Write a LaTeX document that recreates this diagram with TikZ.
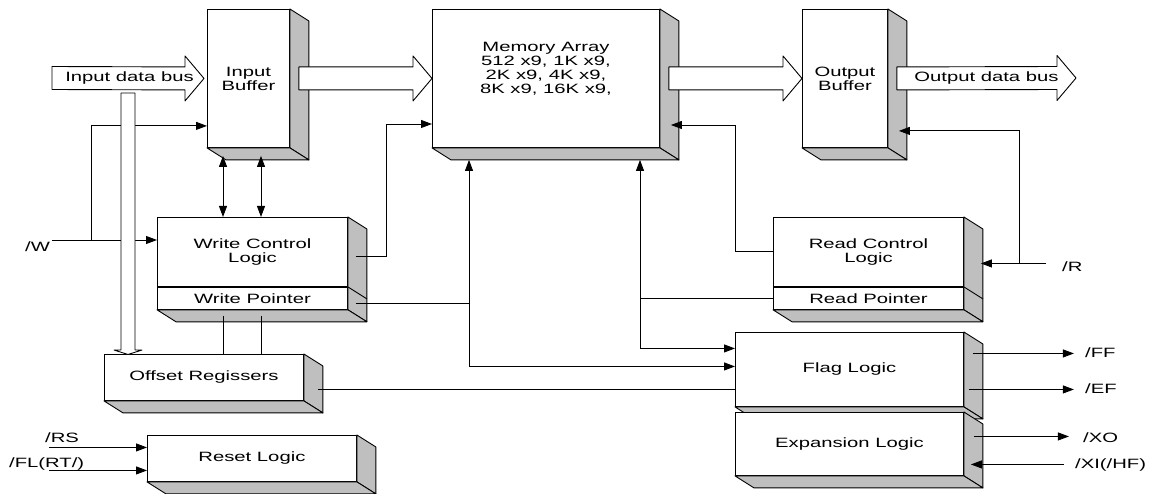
\documentclass[tikz,border=0pt]{standalone}
\usepackage{fontspec}
\setmainfont{Liberation Sans}[FakeStretch=1.5]
\usetikzlibrary{arrows.meta,calc,positioning}
\colorlet{shade}{black!25}
\tikzset{
  >={Triangle[length=11pt,width=8pt]},
  block/.style = {draw,fill=white,line width=0.9pt,inner sep=2pt,align=center,anchor=north west},
  face/.style = {draw,fill=shade,line width=0.9pt,line join=round},
  wire/.style = {line width=0.9pt},
  bus/.style = {draw,fill=white,line width=0.9pt,line join=round},
  memtext/.style = {align=center,anchor=north,yshift=-29.5pt},
  pin/.style = {inner sep=0pt,anchor=base west}
}
% side and bottom faces of a block (upper node #1, lower node #2)
\newcommand{\drawslab}[2]{%
  \filldraw[face] (#1.north east) -- ++(19,12) -- ($(#2.south east)+(19,12)$) -- (#2.south east) -- cycle;
  \filldraw[face] (#2.south west) -- ++(19,12) -- ($(#2.south east)+(19,12)$) -- (#2.south east) -- cycle;
}
\newcommand{\fatarrow}[2]{%
  \draw[bus] ($(#1)+(0,-11.5)$) -- ($(#2)+(-19,-11.5)$) -- ($(#2)+(-19,-22.5)$) -- (#2)
    -- ($(#2)+(-19,22.5)$) -- ($(#2)+(-19,11.5)$) -- ($(#1)+(0,11.5)$) -- cycle;
}

\begin{document}
\begin{tikzpicture}[x=1pt,y=-1pt,font=\fontsize{13.5}{14}\selectfont]
  \useasboundingbox (0,0) rectangle (1153,494);

  \node[block,minimum width=82pt,minimum height=138pt] (inbuf) at (207,9) {Input\\Buffer};
  \drawslab{inbuf}{inbuf}
  \node[block,minimum width=227pt,minimum height=138pt,
    label={[memtext]north:{Memory Array\\512 x9, 1K x9,\\2K x9, 4K x9,\\8K x9, 16K x9,}}] (mem) at (432,9) {};
  \drawslab{mem}{mem}
  \node[block,minimum width=85pt,minimum height=138pt] (outbuf) at (802,9) {Output\\Buffer};
  \drawslab{outbuf}{outbuf}

  \node[block,minimum width=190pt,minimum height=69pt] (wcl) at (157,217) {Write Control\\Logic};
  \node[block,minimum width=190pt,minimum height=22pt] (wptr) at (wcl.south west) {Write Pointer};
  \drawslab{wcl}{wptr}
  \draw[face] (wcl.south east) -- ++(19,12);
  \node[block,minimum width=190pt,minimum height=69pt] (rcl) at (773,217) {Read Control\\Logic};
  \node[block,minimum width=190pt,minimum height=22pt] (rptr) at (rcl.south west) {Read Pointer};
  \drawslab{rcl}{rptr}
  \draw[face] (rcl.south east) -- ++(19,12);

  \node[block,minimum width=199pt,minimum height=46pt] (off) at (104,354) {Offset Regissers};
  \drawslab{off}{off}
  \node[block,minimum width=209pt,minimum height=46pt] (reset) at (147,435) {Reset Logic};
  \drawslab{reset}{reset}
  \node[block,minimum width=228pt,minimum height=74pt] (flag) at (735,332) {Flag Logic};
  \drawslab{flag}{flag}
  \node[block,minimum width=228pt,minimum height=63pt] (expn) at (735,412) {Expansion Logic};
  \drawslab{expn}{expn}

  % data path
  \coordinate (inbus) at (52,78);
  \coordinate (outtip) at (1076,78);
  \fatarrow{inbus}{[xshift=-3pt]inbuf.west}
  \node[inner sep=0pt] (inlbl) at ($(inbus)!0.5!(inbuf.west)$) {Input data bus};
  \fatarrow{[xshift=9pt]inbuf.east}{mem.west}
  \fatarrow{[xshift=9pt]mem.east}{outbuf.west}
  \fatarrow{[xshift=9pt]outbuf.east}{outtip}
  \node[inner sep=0pt] (outlbl) at ($([xshift=9pt]outbuf.east)!0.5!(outtip)$) {Output data bus};

  % write side
  \coordinate (w) at (52,240);
  \node[pin] (wlbl) at (25,252) {/W};
  \draw[wire,->] (w) -- (w -| wcl.west);
  \draw[wire,->] (91,240) |- ([yshift=22pt]inbuf.south west);
  \draw[bus] (121,93) -- (121,350) -- (114,350) -- (128,354.5) -- (142,350) -- (135,350) -- (135,93) -- cycle;
  \coordinate (ia) at ([xshift=16pt,yshift=-8pt]inbuf.south west);
  \coordinate (ib) at ([xshift=54pt,yshift=-8pt]inbuf.south west);
  \draw[wire,<->] (ia) -- (ia |- wcl.north);
  \draw[wire,<->] (ib) -- (ib |- wcl.north);
  \draw[wire] ($(ia |- wptr.south)+(0,6)$) -- (ia |- off.north);
  \draw[wire] ($(ib |- wptr.south)+(0,6)$) -- (ib |- off.north);
  \draw[wire,->] ([xshift=8pt,yshift=-4.5pt]wcl.east) -- ++(31,0) |- ([yshift=-115pt]mem.north west);
  \coordinate (mleft) at ([xshift=37pt,yshift=-12pt]mem.south west);
  \coordinate (wp) at ([xshift=8pt,yshift=-5pt]wptr.east);
  \draw[wire] (wp) -- (wp -| mleft);
  \draw[wire,<->] (mleft) |- ([yshift=3pt]flag.west);
  \coordinate (ob) at ([xshift=14pt,yshift=-12pt]off.east);
  \draw[wire] (ob) -- (ob -| flag.west);

  % read side
  \coordinate (mright) at ([xshift=208pt,yshift=-12pt]mem.south west);
  \draw[wire,<->] (mright) |- ([yshift=21pt]flag.west);
  \draw[wire] (rptr.west) -- (rptr.west -| mright);
  \draw[wire,->] (rcl.west) -- ++(-38,0) |- ([xshift=11pt,yshift=-116pt]mem.north east);
  \coordinate (rin) at ([xshift=82pt,yshift=-11.5pt]rcl.east);
  \node[pin] (rlbl) at (1062,271) {/R};
  \draw[wire,->] (rin) -- ([xshift=17pt,yshift=-11.5pt]rcl.east);
  \draw[wire,->] ($(rin)+(-26,0)$) |- ([xshift=11pt,yshift=17pt]outbuf.south east);

  % flags and expansion
  \node[pin] (fflbl) at (1085,357) {/FF};
  \node[pin] (eflbl) at (1085,393) {/EF};
  \node[pin] (xolbl) at (1083,442) {/XO};
  \node[pin] (xilbl) at (1075,468) {/XI(/HF)};
  \draw[wire,->] ([xshift=9pt,yshift=16pt]flag.east) -- ++(101,0);
  \draw[wire,->] ([xshift=5pt,yshift=-20pt]flag.east) -- ++(105,0);
  \draw[wire,->] ([xshift=10pt,yshift=7.5pt]expn.east) -- ++(95,0);
  \draw[wire,->] ([xshift=100pt,yshift=-20.5pt]expn.east) -- ++(-93,0);

  % reset
  \node[pin] (rslbl) at (45,442) {/RS};
  \node[pin] (fllbl) at (9,467) {/FL(RT/)};
  \draw[wire,->] ([xshift=-98pt,yshift=11pt]reset.west) -- ([yshift=11pt]reset.west);
  \draw[wire,->] ([xshift=-98pt,yshift=-12pt]reset.west) -- ([yshift=-12pt]reset.west);
\end{tikzpicture}
\end{document}
